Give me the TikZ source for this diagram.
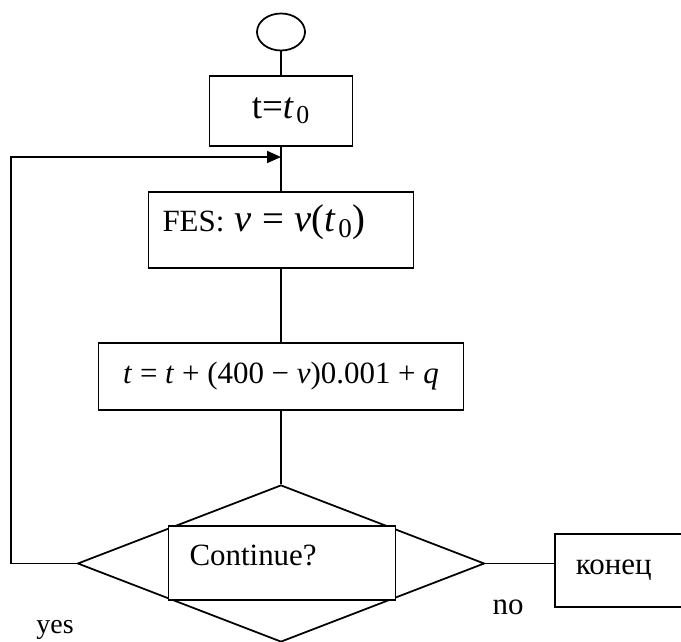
\documentclass[tikz,border=0pt]{standalone}
\usepackage{fontspec}
\setmainfont{Liberation Serif}
\usepackage{tikz}
\usetikzlibrary{shapes.geometric,arrows.meta}

\newcommand{\iv}{\textit{v}}
\newcommand{\itz}{\textit{t}\kern1.5pt\textsubscript{0}}
\newcommand{\bigmath}{\fontsize{22pt}{25pt}\selectfont}

\tikzset{
  block/.style={draw, fill=white, line width=1pt, inner sep=0pt, font=\fontsize{17.6pt}{21pt}\selectfont},
  label/.style={inner sep=0pt, font=\fontsize{17.6pt}{21pt}\selectfont},
  link/.style={line width=1pt}
}

\begin{document}
\begin{tikzpicture}[x=0.02cm, y=-0.02cm]
    \useasboundingbox (0,0) rectangle (681,642);

    \node[draw, line width=1pt, ellipse, minimum width=0.96cm, minimum height=0.74cm] (start) at (281,32) {};
    \node[block, minimum width=2.86cm, minimum height=1.4cm, font=\fontsize{21pt}{24pt}\selectfont] (init) at (281,111) {t=\itz};
    \node[block, text width=4.74cm, align=left, inner xsep=0.28cm, minimum height=1.52cm,
      text height=0.55cm, text depth=0.47cm] (fes) at (281,230)
      {FES:\ {\bigmath\iv\ = \iv(\itz)}};
    \node[block, minimum width=7.3cm, minimum height=1.34cm] (calc) at (281,376.5)
      {\textit{t} = \textit{t} + (400 − \iv)0.001 + \textit{q}};
    \node[draw, line width=1pt, diamond, inner sep=0pt, minimum width=8.14cm, minimum height=3.14cm] (dec) at (281,563.5) {};
    \node[block, text width=3.7cm, align=left, inner xsep=0.42cm, minimum height=1.48cm,
      text height=0.45cm, text depth=0.33cm] (cont) at (282,563) {Continue?};
    \node[block, anchor=west, text width=3cm, align=left, inner xsep=0.42cm, minimum height=1.46cm] (konec) at (554,570.5) {конец};
    \coordinate (join) at (281,157);

    \node[label, font=\fontsize{15.9pt}{19pt}\selectfont] (yes) at (55,630) {yes};
    \node[label] (no) at (508,607) {no};

    \draw[link] (start) -- (init);
    \draw[link] (init) -- (fes);
    \draw[link] (fes) -- (calc);
    \draw[link] (calc) -- (dec);
    \draw[link] (dec.east) -- (dec.east -| konec.west);
    \draw[link, -{Triangle[length=0.28cm, width=0.24cm]}] (dec.west) -- ++(-66,0) |- (join);
\end{tikzpicture}
\end{document}
